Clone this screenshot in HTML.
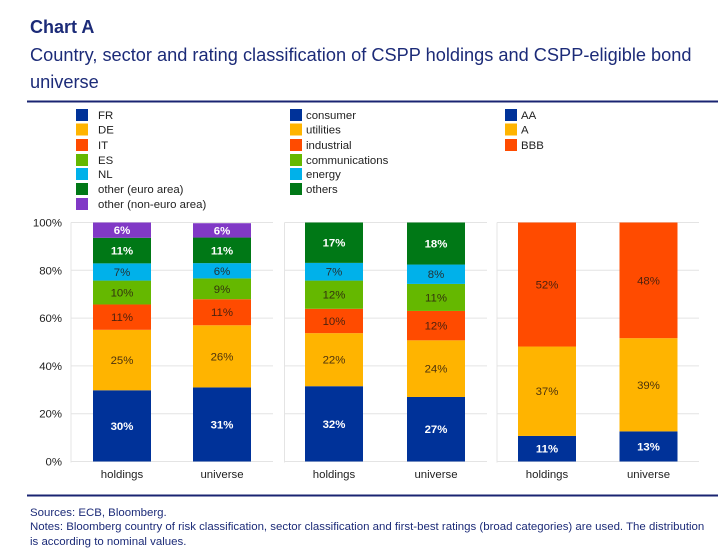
<!DOCTYPE html>
<html lang="en">
<head>
<meta charset="utf-8">
<title>Chart A</title>
<style>
html,body{margin:0;padding:0;background:#fff;width:723px;height:557px;overflow:hidden}
svg{display:block;font-family:"Liberation Sans",Arial,sans-serif}
</style>
</head>
<body>
<svg id="chart" xmlns="http://www.w3.org/2000/svg" width="723" height="557" viewBox="0 0 723 557">
  <rect x="0" y="0" width="723" height="557" fill="#ffffff"/>
  <text x="30" y="33" font-size="18" font-weight="bold" fill="#1c2b78">Chart A</text>
  <text x="30" y="61" font-size="18.2" fill="#1c2b78">Country, sector and rating classification of CSPP holdings and CSPP-eligible bond</text>
  <text x="30" y="88" font-size="18.2" fill="#1c2b78">universe</text>
  <rect x="27" y="100.5" width="691" height="2" fill="#1a2472"/>
  <g id="legend"></g>
  <g id="plot"></g>
  <rect x="27" y="494.5" width="691" height="2" fill="#1a2472"/>
  <text x="30" y="516" font-size="11.45" fill="#1c2b78">Sources: ECB, Bloomberg.</text>
  <text x="30" y="530" font-size="11.45" fill="#1c2b78">Notes: Bloomberg country of risk classification, sector classification and first-best ratings (broad categories) are used. The distribution</text>
  <text x="30" y="545" font-size="11.45" fill="#1c2b78">is according to nominal values.</text>
</svg>
<script>
var categories = ['holdings', 'universe'];
var yTicks = [0, 20, 40, 60, 80, 100];

var countryNames = ['FR', 'DE', 'IT', 'ES', 'NL', 'other (euro area)', 'other (non-euro area)'];
var countryHoldings = [29.8, 25.3, 10.6, 10, 7.2, 10.7, 6.4];
var countryUniverse = [31, 26, 10.9, 8.7, 6.4, 10.7, 6.0];

var sectorNames = ['consumer', 'utilities', 'industrial', 'communications', 'energy', 'others'];
var sectorHoldings = [31.5, 22.2, 10.2, 11.8, 7.4, 16.9];
var sectorUniverse = [27, 23.7, 12.3, 11.3, 8.1, 17.6];

var ratingNames = ['AA', 'A', 'BBB'];
var ratingHoldings = [10.7, 37.4, 51.9];
var ratingUniverse = [12.6, 39, 48.4];

var palette = ['#003299', '#ffb400', '#ff4b00', '#65b800', '#00b1ea', '#007816', '#8139c6'];
var lightLabelColors = { '#003299': 1, '#007816': 1, '#8139c6': 1 };

var NS = 'http://www.w3.org/2000/svg';
var plotTop = 222.5, plotBottom = 461.5, barWidth = 58;

function yScale(v) { return plotBottom - (v / 100) * (plotBottom - plotTop); }

function make(tag, attrs, parent, text) {
  var el = document.createElementNS(NS, tag);
  for (var k in attrs) el.setAttribute(k, attrs[k]);
  if (text !== undefined) el.textContent = text;
  parent.appendChild(el);
  return el;
}

var panels = [
  { key: 'country', left: 71, right: 273, centers: [122, 222], series: [countryHoldings, countryUniverse], names: countryNames },
  { key: 'sector', left: 284.5, right: 487, centers: [334, 436], series: [sectorHoldings, sectorUniverse], names: sectorNames },
  { key: 'rating', left: 497, right: 699, centers: [547, 648.5], series: [ratingHoldings, ratingUniverse], names: ratingNames }
];

var plot = document.getElementById('plot');

yTicks.forEach(function (t) {
  var label = make('text', { x: 62, y: yScale(t) + 4, 'font-size': 11.4, fill: '#222', 'text-anchor': 'end' }, plot, t + '%');
  
  
});

panels.forEach(function (p) {
  var axis = make('line', { x1: p.left, x2: p.left, y1: plotTop, y2: plotBottom + 1, stroke: '#e4e4e4', 'stroke-width': 1 }, plot);
  
  
  yTicks.forEach(function (t) {
    var grid = make('line', { x1: p.left, x2: p.right, y1: yScale(t), y2: yScale(t), stroke: '#e4e4e4', 'stroke-width': 1 }, plot);
    
    
  });
  p.series.forEach(function (values, c) {
    var cum = 0;
    var cx = p.centers[c];
    values.forEach(function (v, i) {
      var top = yScale(cum + v), bot = yScale(cum);
      var color = palette[i];
      var bar = make('rect', { x: cx - barWidth / 2, y: top, width: barWidth, height: bot - top, fill: color }, plot);
      
      
      cum += v;
    });
    cum = 0;
    values.forEach(function (v, i) {
      var top = yScale(cum + v), bot = yScale(cum);
      var color = palette[i];
      var light = lightLabelColors[color];
      var lab = make('text', {
        x: cx, y: (top + bot) / 2 + 4, 'font-size': 11.4, 'text-anchor': 'middle',
        'font-weight': light ? 'bold' : 'normal',
        fill: light ? '#ffffff' : '#2a1a10', 'fill-opacity': light ? 1 : 0.85
      }, plot, Math.round(v) + '%');
      
      
      cum += v;
    });
    var cat = make('text', { x: cx, y: 478, 'font-size': 11.4, fill: '#222', 'text-anchor': 'middle' }, plot, categories[c]);
    
    
  });
});

var legendRows = [115, 129.5, 145, 160, 174, 189, 204];
var legendCols = [
  { swatch: 76, text: 98, names: countryNames },
  { swatch: 290, text: 306, names: sectorNames },
  { swatch: 505, text: 521, names: ratingNames }
];
var legend = document.getElementById('legend');
legendCols.forEach(function (col) {
  col.names.forEach(function (name, i) {
    var entry = make('g', {}, legend);
    
    
    var sw = make('rect', { x: col.swatch, y: legendRows[i] - 6, width: 12, height: 12, fill: palette[i] }, entry);
    
    
    var tx = make('text', { x: col.text, y: legendRows[i] + 4, 'font-size': 11.4, fill: '#222' }, entry, name);
    
    
  });
});
</script>
</body>
</html>
